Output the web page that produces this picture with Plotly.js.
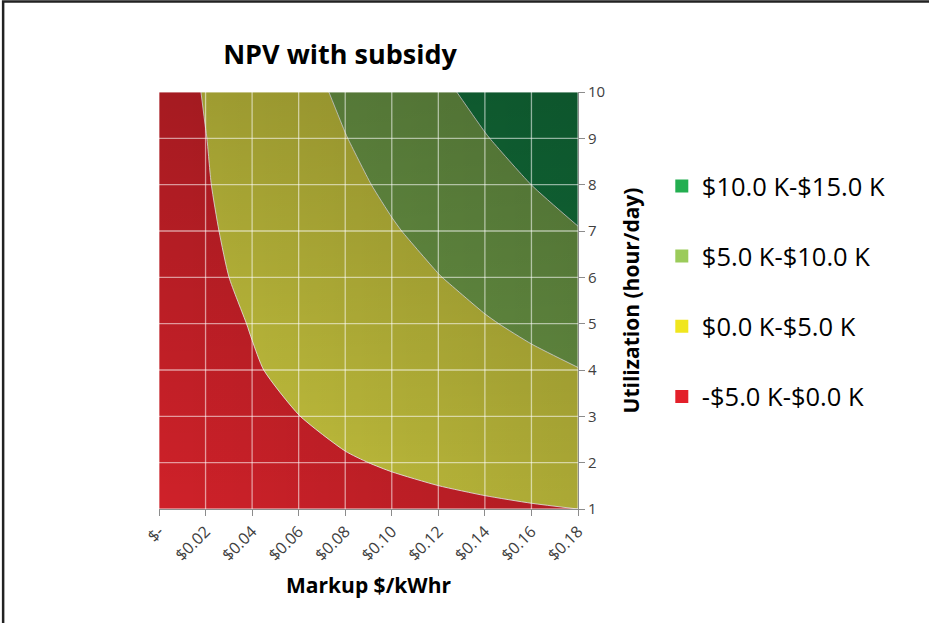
<!DOCTYPE html>
<html>
<head>
<meta charset="utf-8">
<script src="https://cdn.plot.ly/plotly-3.0.1.min.js"></script>
<style>html,body{margin:0;padding:0;background:#fff;}#chart{width:929px;height:623px;}</style>
</head>
<body>
<div id="chart"></div>
<script>
// Markup ($/kWhr) categories
var markup = [0, 0.02, 0.04, 0.06, 0.08, 0.10, 0.12, 0.14, 0.16, 0.18];
var markupLabels = ["$-", "$0.02", "$0.04", "$0.06", "$0.08", "$0.10", "$0.12", "$0.14", "$0.16", "$0.18"];
// Utilization (hour/day)
var utilization = [1, 2, 3, 4, 5, 6, 7, 8, 9, 10];
// NPV with subsidy, in $K (rows = utilization, columns = markup)
var npvU1  = [-1.64, -1.46, -1.28, -1.09, -0.91, -0.73, -0.55, -0.37, -0.18, 0.00];
var npvU2  = [-1.64, -1.28, -0.91, -0.55, -0.18,  0.18,  0.54,  0.91,  1.27,  1.64];
var npvU3  = [-1.64, -1.09, -0.55, -0.02,  0.54,  1.09,  1.64,  2.18,  2.73,  3.27];
var npvU4  = [-1.64, -0.91, -0.18,  0.54,  1.27,  2.00,  2.73,  3.46,  4.18,  4.91];
var npvU5  = [-1.64, -0.73,  0.10,  1.09,  2.00,  2.91,  3.82,  4.73,  5.64,  6.55];
var npvU6  = [-1.64, -0.55,  0.54,  1.64,  2.73,  3.82,  4.91,  6.00,  7.10,  8.19];
var npvU7  = [-1.64, -0.37,  0.91,  2.18,  3.46,  4.73,  6.00,  7.28,  8.55,  9.83];
var npvU8  = [-1.64, -0.18,  1.27,  2.73,  4.18,  5.64,  7.10,  8.55, 10.01, 11.46];
var npvU9  = [-1.64, -0.05,  1.64,  3.27,  4.91,  6.55,  8.19,  9.83, 11.46, 13.10];
var npvU10 = [-1.64,  0.18,  2.00,  3.82,  5.64,  7.46,  9.28, 11.10, 12.92, 14.74];
var npv = [npvU1, npvU2, npvU3, npvU4, npvU5, npvU6, npvU7, npvU8, npvU9, npvU10];
// Legend bands
var bandNames = ["$10.0 K-$15.0 K", "$5.0 K-$10.0 K", "$0.0 K-$5.0 K", "-$5.0 K-$0.0 K"];
var bandLegendColors = ["#23ae50", "#9bcb5a", "#f0e61e", "#e3202a"];
var bandFillColors = ["#cf2129", "#c9c63e", "#72a14a", "#147d41"]; // low -> high

var xMin = markup[0], xMax = markup[markup.length - 1];
var yMin = utilization[0], yMax = utilization[utilization.length - 1];

var traces = [];
traces.push({
  type: 'contour',
  x: markup, y: utilization, z: npv,
  autocontour: false,
  contours: {start: 0, end: 10, size: 5, coloring: 'fill', showlines: true},
  line: {color: 'rgba(255,255,255,0.85)', width: 1, smoothing: 0.6},
  colorscale: [[0, bandFillColors[0]], [1/3, bandFillColors[1]], [2/3, bandFillColors[2]], [1, bandFillColors[3]]],
  showscale: false, showlegend: false, hoverinfo: 'skip'
});
// shading overlays (horizontal and vertical darkening)
var boxX = [xMin, xMax, xMax, xMin, xMin];
var boxY = [yMin, yMin, yMax, yMax, yMin];
traces.push({type: 'scatter', x: boxX, y: boxY, mode: 'lines', fill: 'toself', line: {width: 0},
  fillgradient: {type: 'horizontal', colorscale: [[0, 'rgba(0,0,0,0)'], [1, 'rgba(0,0,0,0.15)']]},
  showlegend: false, hoverinfo: 'skip'});
traces.push({type: 'scatter', x: boxX, y: boxY, mode: 'lines', fill: 'toself', line: {width: 0},
  fillgradient: {type: 'vertical', colorscale: [[0, 'rgba(0,0,0,0)'], [1, 'rgba(0,0,0,0.2)']]},
  showlegend: false, hoverinfo: 'skip'});
// gridlines above the surface
var gx = [], gy = [];
markup.forEach(function (m) { gx.push(m, m, null); gy.push(yMin, yMax, null); });
utilization.forEach(function (u) { gx.push(xMin, xMax, null); gy.push(u, u, null); });
traces.push({type: 'scatter', x: gx, y: gy, mode: 'lines',
  line: {color: 'rgba(255,255,255,0.55)', width: 1.3}, showlegend: false, hoverinfo: 'skip'});
// legend entries
for (var i = 0; i < bandNames.length; i++) {
  traces.push({type: 'scatter', x: [null], y: [null], mode: 'markers', name: bandNames[i],
    legendgroup: 'g' + i,
    marker: {symbol: 'square', size: 13, color: bandLegendColors[i]}});
}

var layout = {
  width: 929, height: 623,
  paper_bgcolor: '#ffffff', plot_bgcolor: '#ffffff',
  margin: {l: 159, r: 351, t: 92, b: 114},
  font: {family: 'Open Sans, Noto Sans, sans-serif', color: '#404040'},
  title: {text: 'NPV with subsidy', font: {size: 27, color: '#000', family: 'Open Sans, sans-serif', weight: 'bold'},
    x: 0.432, xref: 'paper', xanchor: 'center', y: 0.912, yref: 'container', yanchor: 'middle'},
  xaxis: {
    range: [xMin, xMax], tickvals: markup, ticktext: markupLabels, tickangle: -45,
    ticks: 'outside', ticklen: 6, tickcolor: '#8c8c8c', showline: true, linecolor: '#8c8c8c',
    showgrid: false, zeroline: false, tickfont: {size: 16, color: '#404040'},
    title: {text: 'Markup $/kWhr', font: {size: 21, color: '#000', weight: 'bold'}, standoff: 14}
  },
  yaxis: {
    side: 'right', range: [yMin, yMax], tickvals: utilization,
    ticks: 'outside', ticklen: 6, tickcolor: '#8c8c8c', showline: true, linecolor: '#8c8c8c',
    showgrid: false, zeroline: false, tickfont: {size: 15, color: '#404040'},
    title: {text: 'Utilization (hour/day)', font: {size: 21, color: '#000', weight: 'bold'}, standoff: 20}
  },
  legend: {x: 1.2, xanchor: 'left', y: 0.83, yanchor: 'top', traceorder: 'grouped', tracegroupgap: 34,
    font: {size: 25.5, color: '#000'}, bgcolor: 'rgba(0,0,0,0)'},
  shapes: [{type: 'rect', xref: 'paper', yref: 'paper', x0: -0.372, x1: 1.9, y0: -0.35, y1: 1.217,
    line: {color: '#222', width: 2.5}, fillcolor: 'rgba(0,0,0,0)', layer: 'below'}]
};

Plotly.newPlot('chart', traces, layout, {displayModeBar: false, staticPlot: true});
</script>
</body>
</html>
